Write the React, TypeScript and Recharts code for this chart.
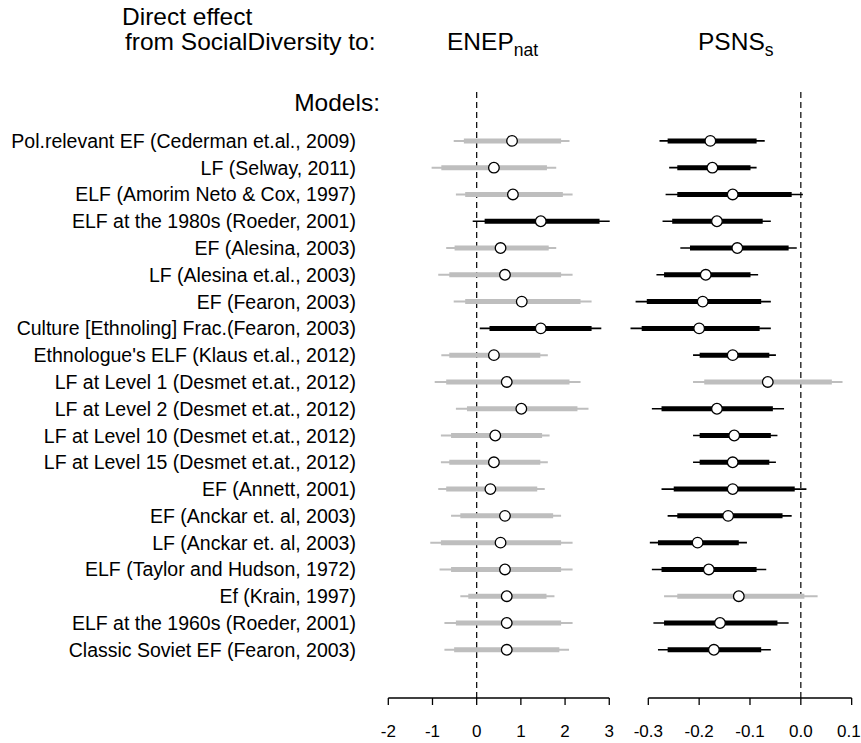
import React from 'react';
import { ScatterChart, Scatter, XAxis, YAxis, ErrorBar, ReferenceLine } from 'recharts';

const models = [
  'Pol.relevant EF (Cederman et.al., 2009)',
  'LF (Selway, 2011)',
  'ELF (Amorim Neto & Cox, 1997)',
  'ELF at the 1980s (Roeder, 2001)',
  'EF (Alesina, 2003)',
  'LF (Alesina et.al., 2003)',
  'EF (Fearon, 2003)',
  'Culture [Ethnoling] Frac.(Fearon, 2003)',
  "Ethnologue's ELF (Klaus et.al., 2012)",
  'LF at Level 1 (Desmet et.at., 2012)',
  'LF at Level 2 (Desmet et.at., 2012)',
  'LF at Level 10 (Desmet et.at., 2012)',
  'LF at Level 15 (Desmet et.at., 2012)',
  'EF (Annett, 2001)',
  'EF (Anckar et. al, 2003)',
  'LF (Anckar et. al, 2003)',
  'ELF (Taylor and Hudson, 1972)',
  'Ef (Krain, 1997)',
  'ELF at the 1960s (Roeder, 2001)',
  'Classic Soviet EF (Fearon, 2003)',
];

// ENEP_nat panel
const enepEst = [0.80, 0.39, 0.82, 1.45, 0.54, 0.64, 1.02, 1.45, 0.39, 0.68, 1.01, 0.42, 0.39, 0.31, 0.64, 0.54, 0.64, 0.68, 0.68, 0.68];
const enepLo95 = [-0.52, -1.02, -0.47, -0.09, -0.69, -0.87, -0.52, 0.07, -0.80, -0.95, -0.47, -0.81, -0.81, -0.87, -0.58, -1.05, -0.84, -0.37, -0.73, -0.73];
const enepLo90 = [-0.29, -0.80, -0.26, 0.18, -0.50, -0.62, -0.26, 0.29, -0.62, -0.69, -0.22, -0.58, -0.62, -0.69, -0.37, -0.81, -0.58, -0.19, -0.47, -0.51];
const enepHi90 = [1.91, 1.59, 1.95, 2.78, 1.63, 1.91, 2.35, 2.60, 1.44, 2.10, 2.28, 1.48, 1.44, 1.37, 1.73, 1.91, 1.91, 1.58, 1.91, 1.87];
const enepHi95 = [2.10, 1.80, 2.17, 3.01, 1.80, 2.17, 2.60, 2.82, 1.61, 2.35, 2.53, 1.65, 1.61, 1.54, 1.91, 2.17, 2.17, 1.76, 2.17, 2.09];

// PSNS_s panel
const psnsEst = [-0.178, -0.174, -0.134, -0.165, -0.125, -0.187, -0.193, -0.200, -0.134, -0.065, -0.165, -0.131, -0.134, -0.134, -0.143, -0.203, -0.181, -0.122, -0.159, -0.171];
const psnsLo95 = [-0.278, -0.259, -0.266, -0.272, -0.237, -0.284, -0.325, -0.335, -0.212, -0.212, -0.293, -0.212, -0.212, -0.274, -0.262, -0.297, -0.293, -0.269, -0.290, -0.281];
const psnsLo90 = [-0.262, -0.243, -0.243, -0.253, -0.218, -0.269, -0.303, -0.313, -0.199, -0.190, -0.274, -0.199, -0.199, -0.250, -0.243, -0.281, -0.274, -0.243, -0.269, -0.262];
const psnsHi90 = [-0.087, -0.099, -0.018, -0.075, -0.024, -0.099, -0.078, -0.081, -0.062, 0.061, -0.055, -0.059, -0.062, -0.012, -0.036, -0.122, -0.087, 0.007, -0.046, -0.078];
const psnsHi95 = [-0.071, -0.087, 0.004, -0.059, -0.008, -0.084, -0.059, -0.059, -0.049, 0.082, -0.033, -0.046, -0.049, 0.011, -0.018, -0.106, -0.068, 0.033, -0.024, -0.059];

const enepTicks = [-2, -1, 0, 1, 2, 3];
const psnsTicks = [-0.3, -0.2, -0.1, 0, 0.1];
const psnsTickLabels = ['-0.3', '-0.2', '-0.1', '0.0', '0.1'];
const rowTicks = models.map((_, i) => i + 1);

const FONT = '"Liberation Sans", Arial, Helvetica, sans-serif';
const GREY = '#bebebe';
const ROW_DOMAIN: [number, number] = [-0.9, 21.8];
const CH = 743;

type Row = { row: number; x: number; thin: [number, number]; thick: [number, number]; sig: boolean };

function buildRows(est: number[], lo95: number[], lo90: number[], hi90: number[], hi95: number[]): Row[] {
  return est.map((e, i) => ({
    row: i + 1,
    x: e,
    thin: [e - lo95[i], hi95[i] - e],
    thick: [e - lo90[i], hi90[i] - e],
    sig: lo90[i] > 0 || hi90[i] < 0,
  }));
}

const enepRows = buildRows(enepEst, enepLo95, enepLo90, enepHi90, enepHi95);
const psnsRows = buildRows(psnsEst, psnsLo95, psnsLo90, psnsHi90, psnsHi95);

const Dot = (p: any) => (
  <circle cx={p.cx} cy={p.cy} r={5.3} fill="#fff" stroke="#000" strokeWidth={1.3} />
);

const LabelTick = (p: any) => (
  <text x={p.x} y={p.y} textAnchor="end" dominantBaseline="central" fontFamily={FONT} fontSize={19.5} fill="#000">
    {models[p.payload.value - 1]}
  </text>
);

const PsnsTick = (p: any) => {
  const idx = psnsTicks.findIndex((t) => Math.abs(t - p.payload.value) < 1e-9);
  const label = idx >= 0 ? psnsTickLabels[idx] : String(p.payload.value);
  const last = idx === psnsTicks.length - 1;
  return (
    <text
      x={last ? p.x + 9 : p.x}
      y={p.y}
      dy="0.71em"
      textAnchor={last ? 'end' : 'middle'}
      fontFamily={FONT}
      fontSize={17}
      fill="#000"
    >
      {label}
    </text>
  );
};

function seriesFor(rows: Row[]) {
  const sig = rows.filter((r) => r.sig);
  const non = rows.filter((r) => !r.sig);
  return [
    <Scatter key="non" data={non} dataKey="x" shape={Dot} isAnimationActive={false}>
      <ErrorBar dataKey="thin" direction="x" width={0} stroke={GREY} strokeWidth={2} />
      <ErrorBar dataKey="thick" direction="x" width={0} stroke={GREY} strokeWidth={5} />
    </Scatter>,
    <Scatter key="sig" data={sig} dataKey="x" shape={Dot} isAnimationActive={false}>
      <ErrorBar dataKey="thin" direction="x" width={0} stroke="#000" strokeWidth={1.6} />
      <ErrorBar dataKey="thick" direction="x" width={0} stroke="#000" strokeWidth={5} />
    </Scatter>,
  ];
}

const tickStyle = { fill: '#000', fontSize: 17, fontFamily: FONT };

export default function App() {
  return (
    <div style={{ position: 'absolute', left: 0, top: 0, width: 861, height: 743, background: '#fff', fontFamily: FONT }}>
      <div style={{ position: 'absolute', left: 0, top: 0 }}>
        <ScatterChart width={625} height={CH} margin={{ top: 90, right: 6.9, bottom: 0, left: 0 }}>
          <XAxis
            type="number"
            dataKey="x"
            domain={[-2.2, 3.2]}
            ticks={enepTicks}
            interval={0}
            axisLine={false}
            tickLine={{ stroke: '#000', strokeWidth: 1.3 }}
            tickSize={7}
            tickMargin={20}
            height={45}
            tick={tickStyle}
          />
          <YAxis
            type="number"
            dataKey="row"
            domain={ROW_DOMAIN}
            reversed
            ticks={rowTicks}
            interval={0}
            axisLine={false}
            tickLine={false}
            tickSize={0}
            tickMargin={23.5}
            width={379.46}
            tick={LabelTick}
          />
          <ReferenceLine x={0} stroke="#000" strokeWidth={1.2} strokeDasharray="6 4" />
          <ReferenceLine
            segment={[{ x: enepTicks[0], y: ROW_DOMAIN[1] }, { x: enepTicks[enepTicks.length - 1], y: ROW_DOMAIN[1] }]}
            stroke="#000"
            strokeWidth={1.3}
            ifOverflow="visible"
          />
          {seriesFor(enepRows)}
        </ScatterChart>
      </div>
      <div style={{ position: 'absolute', left: 600, top: 0 }}>
        <ScatterChart width={261} height={CH} margin={{ top: 90, right: 1.7, bottom: 0, left: 17.8 }}>
          <XAxis
            type="number"
            dataKey="x"
            domain={[-0.36, 0.115]}
            ticks={psnsTicks}
            interval={0}
            axisLine={false}
            tickLine={{ stroke: '#000', strokeWidth: 1.3 }}
            tickSize={7}
            tickMargin={20}
            height={45}
            tick={PsnsTick}
          />
          <YAxis type="number" dataKey="row" domain={ROW_DOMAIN} reversed hide />
          <ReferenceLine x={0} stroke="#000" strokeWidth={1.2} strokeDasharray="6 4" />
          <ReferenceLine
            segment={[{ x: psnsTicks[0], y: ROW_DOMAIN[1] }, { x: psnsTicks[psnsTicks.length - 1], y: ROW_DOMAIN[1] }]}
            stroke="#000"
            strokeWidth={1.3}
            ifOverflow="visible"
          />
          {seriesFor(psnsRows)}
        </ScatterChart>
      </div>
      <svg width={861} height={130} style={{ position: 'absolute', left: 0, top: 0, pointerEvents: 'none' }}>
        <g fontFamily={FONT} fill="#000">
          <text x={122} y={25} fontSize={24.5}>Direct effect</text>
          <text x={125} y={50} fontSize={24.5}>from SocialDiversity to:</text>
          <text x={447} y={50} fontSize={24.5}>
            ENEP<tspan fontSize={17.5} dy={6}>nat</tspan>
          </text>
          <text x={698} y={50} fontSize={24.5}>
            PSNS<tspan fontSize={17.5} dy={6}>s</tspan>
          </text>
          <text x={380} y={111} fontSize={24.5} textAnchor="end">Models:</text>
        </g>
      </svg>
    </div>
  );
}
